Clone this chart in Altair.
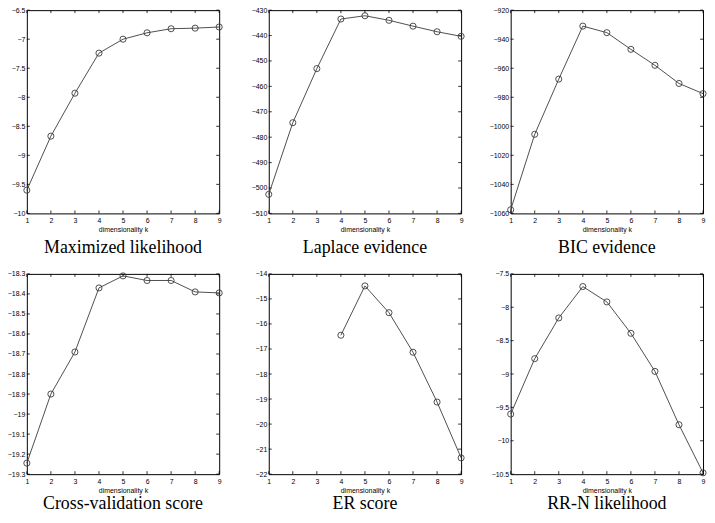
import altair as alt
import pandas as pd

# ---------------- data ----------------
x_ticks = [1, 2, 3, 4, 5, 6, 7, 8, 9]

ml_k = [1, 2, 3, 4, 5, 6, 7, 8, 9]
ml_v = [-9.60, -8.67, -7.93, -7.24, -7.00, -6.89, -6.82, -6.81, -6.79]
ml_ticks = [-10, -9.5, -9, -8.5, -8, -7.5, -7, -6.5]

lap_k = [1, 2, 3, 4, 5, 6, 7, 8, 9]
lap_v = [-502.5, -474.3, -453.0, -433.5, -432.2, -434.0, -436.3, -438.5, -440.3]
lap_ticks = [-510, -500, -490, -480, -470, -460, -450, -440, -430]

bic_k = [1, 2, 3, 4, 5, 6, 7, 8, 9]
bic_v = [-1057.5, -1005.5, -967.5, -931.0, -935.5, -947.0, -958.0, -970.5, -977.5]
bic_ticks = [-1060, -1040, -1020, -1000, -980, -960, -940, -920]

cv_k = [1, 2, 3, 4, 5, 6, 7, 8, 9]
cv_v = [-19.245, -18.90, -18.69, -18.37, -18.31, -18.333, -18.333, -18.39, -18.395]
cv_ticks = [-19.3, -19.2, -19.1, -19.0, -18.9, -18.8, -18.7, -18.6, -18.5, -18.4, -18.3]

er_k = [4, 5, 6, 7, 8, 9]
er_v = [-16.45, -14.48, -15.55, -17.13, -19.12, -21.35]
er_ticks = [-22, -21, -20, -19, -18, -17, -16, -15, -14]

rr_k = [1, 2, 3, 4, 5, 6, 7, 8, 9]
rr_v = [-9.60, -8.77, -8.16, -7.69, -7.92, -8.39, -8.96, -9.76, -10.48]
rr_ticks = [-10.5, -10, -9.5, -9, -8.5, -8, -7.5]

W = 194
H_TOP = 205
H_BOT = 202
TL = 3  # inner tick length
LINE_COLOR = "#3a3a3a"
LABEL_EXPR = "format(datum.value, '~g')"


def panel(ks, vs, yticks, title, title_offset, H):
    df = pd.DataFrame({"k": ks, "v": vs})
    ydf = pd.DataFrame({"v": yticks})
    xdf = pd.DataFrame({"k": x_ticks})
    xenc = alt.X("k:Q",
                 scale=alt.Scale(domain=[1, 9], nice=False, zero=False),
                 axis=alt.Axis(values=x_ticks, title="dimensionality k", labelExpr=LABEL_EXPR,
                               labelPadding=3))
    yenc = alt.Y("v:Q",
                 scale=alt.Scale(domain=[min(yticks), max(yticks)], nice=False, zero=False),
                 axis=alt.Axis(values=yticks, title=None, labelExpr=LABEL_EXPR,
                               labelPadding=2, minExtent=18, maxExtent=18))

    line = alt.Chart(df).mark_line(color=LINE_COLOR, strokeWidth=0.9).encode(x=xenc, y=yenc)
    pts = alt.Chart(df).mark_point(shape="circle", filled=False, size=38,
                                   color=LINE_COLOR, strokeWidth=0.9, opacity=1).encode(x=xenc, y=yenc)
    yl = alt.Chart(ydf).mark_rule(color="black", strokeWidth=0.8).encode(
        y=yenc, x=alt.value(0), x2=alt.value(TL))
    yr = alt.Chart(ydf).mark_rule(color="black", strokeWidth=0.8).encode(
        y=yenc, x=alt.value(W - TL), x2=alt.value(W))
    xb = alt.Chart(xdf).mark_rule(color="black", strokeWidth=0.8).encode(
        x=xenc, y=alt.value(H - TL), y2=alt.value(H))
    xt = alt.Chart(xdf).mark_rule(color="black", strokeWidth=0.8).encode(
        x=xenc, y=alt.value(0), y2=alt.value(TL))
    return alt.layer(yl, yr, xb, xt, line, pts).properties(
        width=W, height=H,
        title=alt.TitleParams(title, orient="bottom", anchor="middle", offset=title_offset,
                              font="Liberation Serif", fontSize=18, fontWeight="normal",
                              color="black"))


chart = alt.concat(
    panel(ml_k, ml_v, ml_ticks, "Maximized likelihood", 7, H_TOP),
    panel(lap_k, lap_v, lap_ticks, "Laplace evidence", 7, H_TOP),
    panel(bic_k, bic_v, bic_ticks, "BIC evidence", 7, H_TOP),
    panel(cv_k, cv_v, cv_ticks, "Cross-validation score", 2, H_BOT),
    panel(er_k, er_v, er_ticks, "ER score", 2, H_BOT),
    panel(rr_k, rr_v, rr_ticks, "RR-N likelihood", 2, H_BOT),
    columns=3, spacing={"row": 61, "column": 50}, bounds="flush"
).properties(
    padding={"left": -2, "top": -5, "right": -2, "bottom": -3}
).configure_view(
    stroke="black", strokeWidth=1
).configure_axis(
    grid=False, domain=False, ticks=False,
    labelFont="Liberation Sans", labelFontSize=7, labelColor="black",
    labelFlush=False, labelOverlap=False,
    titleFont="Liberation Sans", titleFontSize=7, titleFontWeight="normal",
    titleColor="black", titlePadding=2
)

chart.save("out.html", embed_options={"renderer": "svg", "actions": False})
